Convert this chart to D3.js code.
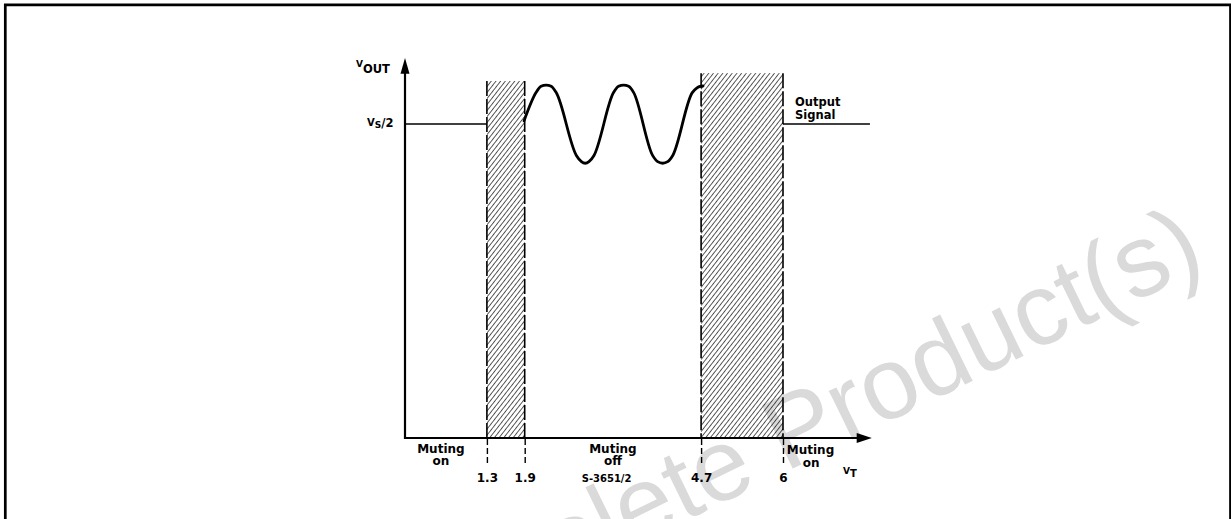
<!DOCTYPE html>
<html>
<head>
<meta charset="utf-8">
<script src="https://cdn.jsdelivr.net/npm/d3@7"></script>
<style>
body { margin: 0; background: #fff; }
svg text { font-family: "DejaVu Sans", sans-serif; font-weight: bold; fill: #000; }
</style>
</head>
<body>
<script>
// threshold voltages on the V_T axis
var tickValues = [1.3, 1.9, 4.7, 6];

// hatched transition zones (x in volts, top in units of Vs/2)
var bandStart = [1.3, 4.7];
var bandEnd   = [1.9, 6.0];
var bandTop   = [1.137, 1.162];

// output level in units of Vs/2
var vsHalf = 1;

// output signal while muting is off
var waveX = [1.89, 2.08, 2.16, 2.24, 2.32, 2.40, 2.72, 2.80, 2.86, 2.92, 3.00,
             3.31, 3.39, 3.47, 3.55, 3.63, 3.93, 4.01, 4.09, 4.17, 4.25,
             4.56, 4.63, 4.68, 4.73];
var waveY = [1.01, 1.10, 1.12, 1.124, 1.12, 1.10, 0.90, 0.88, 0.875, 0.88, 0.90,
             1.10, 1.12, 1.124, 1.12, 1.10, 0.90, 0.88, 0.875, 0.88, 0.90,
             1.10, 1.114, 1.12, 1.121];

var regionText = [["Muting", "on"], ["Muting", "off"], ["Muting", "on"]];

var width = 1231, height = 519;

var svg = d3.select("body").append("svg")
    .attr("width", width)
    .attr("height", height);

var x = d3.scaleLinear().domain([0, 7.5]).range([405, 877.5]);
var y = d3.scaleLinear().domain([0, 1]).range([438, 124]);

// watermark, behind everything
svg.append("text")
    .attr("transform", "translate(1208,266) rotate(-26)")
    .attr("text-anchor", "end")
    .style("font-family", "'Liberation Sans', Arial, sans-serif")
    .style("font-weight", "normal")
    .style("font-size", "102px")
    .style("fill", "#dadada")
    .text("Obsolete Product(s)");

// page frame
svg.append("path")
    .attr("d", "M5.3,519V4.8H1230.5V519")
    .attr("fill", "none")
    .attr("stroke", "#000")
    .attr("stroke-width", 2.7);

var defs = svg.append("defs");
defs.append("pattern")
    .attr("id", "hatch")
    .attr("patternUnits", "userSpaceOnUse")
    .attr("width", 3.7)
    .attr("height", 10)
    .attr("patternTransform", "rotate(38)")
  .append("line")
    .attr("x1", 0).attr("y1", 0).attr("x2", 0).attr("y2", 10)
    .attr("stroke", "#000")
    .attr("stroke-width", 1.3);

var g = svg.append("g");

// hatched bands
bandStart.forEach(function(s, i) {
  g.append("rect")
      .attr("x", x(s))
      .attr("y", y(bandTop[i]))
      .attr("width", x(bandEnd[i]) - x(s))
      .attr("height", y(0) - y(bandTop[i]))
      .attr("fill", "url(#hatch)");
  [s, bandEnd[i]].forEach(function(v) {
    g.append("line")
        .attr("x1", x(v)).attr("x2", x(v))
        .attr("y1", y(bandTop[i])).attr("y2", y(0))
        .attr("stroke", "#000")
        .attr("stroke-width", 1.6)
        .attr("stroke-dasharray", "15,3");
  });
});

// Vs/2 level outside the muting-off zone
g.append("line")
    .attr("x1", x(0)).attr("x2", x(1.3))
    .attr("y1", y(vsHalf)).attr("y2", y(vsHalf))
    .attr("stroke", "#000").attr("stroke-width", 1.5);
g.append("line")
    .attr("x1", x(6)).attr("x2", x(7.38))
    .attr("y1", y(vsHalf)).attr("y2", y(vsHalf))
    .attr("stroke", "#000").attr("stroke-width", 1.5);

// output waveform
var wave = d3.line()
    .x(function(d, i) { return x(waveX[i]); })
    .y(function(d, i) { return y(waveY[i]); })
    .curve(d3.curveMonotoneX);

g.append("path")
    .datum(waveX)
    .attr("fill", "none")
    .attr("stroke", "#000")
    .attr("stroke-width", 2.8)
    .attr("stroke-linejoin", "round")
    .attr("stroke-linecap", "round")
    .attr("d", wave);

// axes with arrow heads
g.append("line")
    .attr("x1", x(0)).attr("x2", x(0))
    .attr("y1", y(0) + 1).attr("y2", y(1.17))
    .attr("stroke", "#000").attr("stroke-width", 2.2);
g.append("path")
    .attr("d", "M" + (x(0) - 4.5) + "," + y(1.16) + "L" + x(0) + "," + y(1.21) +
               "L" + (x(0) + 4.5) + "," + y(1.16) + "Z")
    .attr("fill", "#000");

g.append("line")
    .attr("x1", x(0)).attr("x2", x(7.2))
    .attr("y1", y(0)).attr("y2", y(0))
    .attr("stroke", "#000").attr("stroke-width", 2.2);
g.append("path")
    .attr("d", "M" + x(7.17) + "," + (y(0) - 5) + "L" + x(7.41) + "," + y(0) +
               "L" + x(7.17) + "," + (y(0) + 5) + "Z")
    .attr("fill", "#000");

// threshold ticks below the axis
var ax = g.append("g")
    .attr("transform", "translate(0," + (y(0) + 1) + ")")
    .call(d3.axisBottom(x).tickValues(tickValues).tickSize(25).tickPadding(9)
          .tickFormat(function(d) { return d; }));
ax.select(".domain").remove();
ax.selectAll(".tick line")
    .attr("stroke", "#000")
    .attr("stroke-width", 1.4)
    .attr("stroke-dasharray", "6,3");
ax.selectAll(".tick text")
    .style("font-size", "12px")
    .attr("fill", "#000");

// region labels
var labelX = [0.57, 3.3, 6.06];
var labelAnchor = ["middle", "middle", "start"];
var labelY = [[453, 465], [453, 465], [454, 467]];
regionText.forEach(function(lines, i) {
  lines.forEach(function(t, j) {
    g.append("text")
        .attr("x", x(labelX[i]) + (j === 1 && i === 2 ? 16 : 0))
        .attr("y", labelY[i][j])
        .attr("text-anchor", labelAnchor[i])
        .style("font-size", "12px")
        .text(t);
  });
});

g.append("text")
    .attr("x", x(3.2)).attr("y", 482)
    .attr("text-anchor", "middle")
    .style("font-size", "10px")
    .text("S-3651/2");

// V_T axis label
var vt = g.append("text").attr("x", 843).attr("y", 474).style("font-size", "9px");
vt.append("tspan").text("V");
vt.append("tspan").attr("dy", 3).style("font-size", "10px").text("T");

// V_OUT axis label
var vo = g.append("text").attr("x", 356).attr("y", 67).style("font-size", "9px");
vo.append("tspan").text("V");
vo.append("tspan").attr("dy", 6).style("font-size", "11.5px").text("OUT");

// Vs/2 label
var vs = g.append("text").attr("x", 367).attr("y", y(vsHalf) + 2).style("font-size", "10px");
vs.append("tspan").text("V");
vs.append("tspan").attr("dy", 2).style("font-size", "9px").text("S");
vs.append("tspan").attr("dy", -1).style("font-size", "11.5px").text("/2");

// output signal label
g.append("text").attr("x", 795).attr("y", 106).style("font-size", "11.5px").text("Output");
g.append("text").attr("x", 795).attr("y", 119).style("font-size", "11.5px").text("Signal");
</script>
</body>
</html>
